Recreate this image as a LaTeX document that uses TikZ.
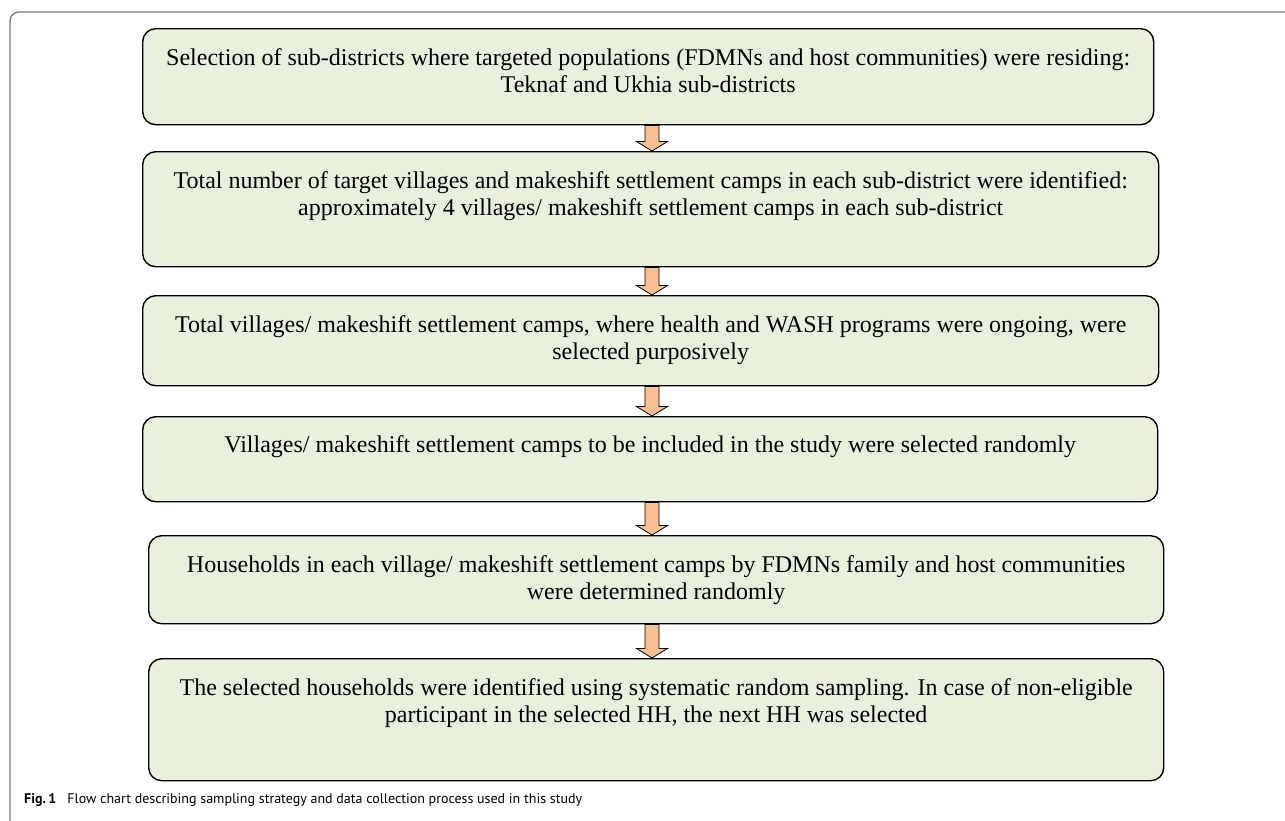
\documentclass[tikz,border=0pt]{standalone}
\usepackage{fontspec}
\setmainfont{Liberation Serif}
\newfontfamily\capfont{PT Sans}
\usetikzlibrary{calc}
\definecolor{boxfill}{HTML}{E9F0DC}
\definecolor{arrfill}{HTML}{F9C08F}
\definecolor{framegray}{HTML}{777777}
\tikzset{
  stepbox/.style={draw=black, line width=1.4pt, fill=boxfill, rounded corners=13pt,
    rectangle, inner sep=0pt, anchor=north west},
  txt/.style={font=\fontsize{24}{27.5}\selectfont, align=center, inner sep=0pt, anchor=base},
  flowarr/.style={draw=black, line width=0.8pt, fill=arrfill, line join=miter},
}
\newcommand{\flowarrow}[2]{%
  \draw[flowarr] let \p1=(#1.south -| ax), \p2=(#2.north -| ax) in
    (\x1-7pt,\y1) -- (\x1+7pt,\y1) -- (\x1+7pt,\y2+9.5pt) -- (\x1+15.5pt,\y2+9.5pt)
    -- (\p2) -- (\x1-15.5pt,\y2+9.5pt) -- (\x1-7pt,\y2+9.5pt) -- cycle;}
\begin{document}
\begin{tikzpicture}[x=1pt,y=-1pt]
\useasboundingbox (0,0) rectangle (1285,820);
\fill[white] (0,0) rectangle (1285,820);
% outer frame (top and left)
\draw[framegray, line width=1.3pt, rounded corners=9pt] (10,830) -- (10,12) -- (1290,12);
\coordinate (ax) at (652,0);
% boxes
\node[stepbox, minimum width=1011pt, minimum height=96pt] (b1) at (142,28) {};
\node[stepbox, minimum width=1016pt, minimum height=115pt] (b2) at (142,151) {};
\node[stepbox, minimum width=1016pt, minimum height=90pt] (b3) at (142,295) {};
\node[stepbox, minimum width=1015pt, minimum height=85pt] (b4) at (142,416) {};
\node[stepbox, minimum width=1015pt, minimum height=88pt] (b5) at (148,535) {};
\node[stepbox, minimum width=1015pt, minimum height=122pt] (b6) at (148,658) {};
% texts (base anchor = baseline of the last line)
\node[txt] (t1) at ($(b1.north)+(0,64.5)$) {Selection of sub-districts where targeted populations (FDMNs and host communities) were residing:\\Teknaf and Ukhia sub-districts};
\node[txt] (t2) at ($(b2.north)+(0,64.5)$) {Total number of target villages and makeshift settlement camps in each sub-district were identified:\\approximately 4 villages/ makeshift settlement camps in each sub-district};
\node[txt] (t3) at ($(b3.north)+(0,64.5)$) {Total villages/ makeshift settlement camps, where health and WASH programs were ongoing, were\\selected purposively};
\node[txt] (t4) at ($(b4.north)+(0,36)$) {Villages/ makeshift settlement camps to be included in the study were selected randomly};
\node[txt] (t5) at ($(b5.north)+(0,64.5)$) {Households in each village/ makeshift settlement camps by FDMNs family and host communities\\were determined randomly};
\node[txt] (t6) at ($(b6.north)+(0,64.5)$) {The selected households were identified using systematic random sampling. In case of non-eligible\\participant in the selected HH, the next HH was selected};
% arrows
\flowarrow{b1}{b2}
\flowarrow{b2}{b3}
\flowarrow{b3}{b4}
\flowarrow{b4}{b5}
\flowarrow{b5}{b6}
% caption
\node[anchor=base west, inner sep=0pt, font=\capfont\fontsize{14}{17}\selectfont] (cap) at (24,803)
  {\textbf{Fig.\,1}\hspace{0.8em}Flow chart describing sampling strategy and data collection process used in this study};
\end{tikzpicture}
\end{document}
